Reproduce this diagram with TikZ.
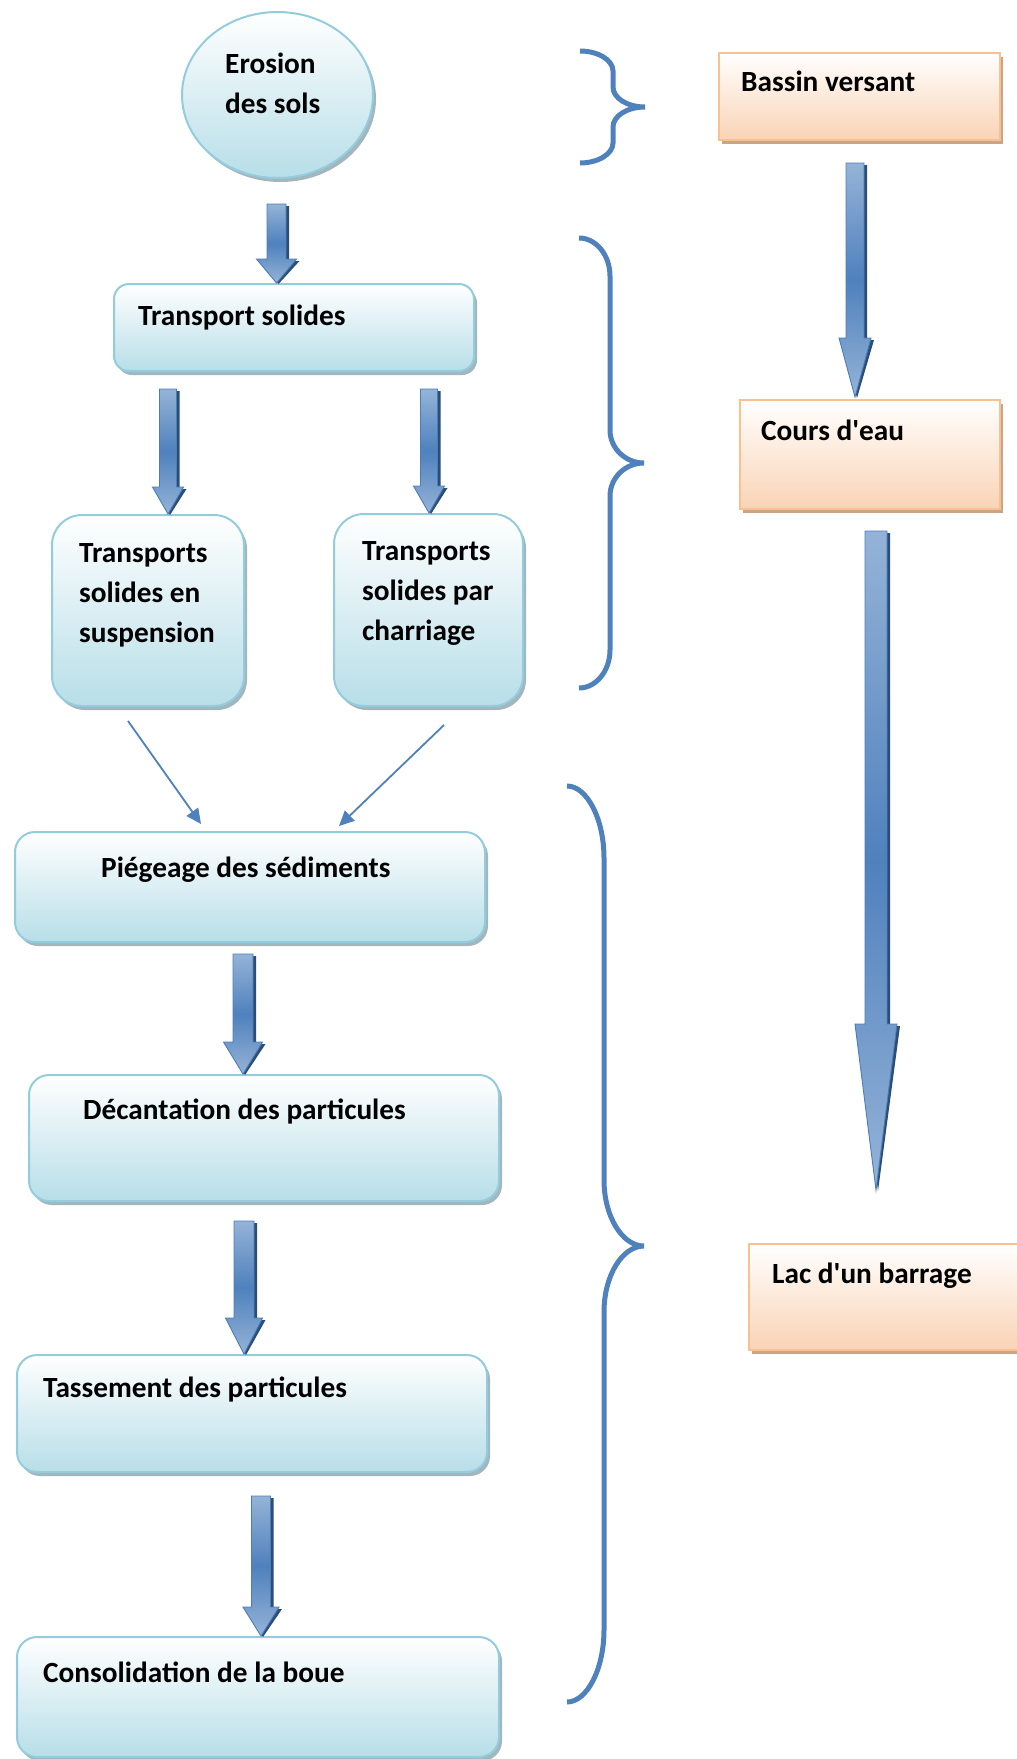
\documentclass[tikz,border=0pt]{standalone}
\usepackage{fontspec}
\setmainfont{Carlito}[Ligatures=TeXOff]
\usetikzlibrary{shapes.geometric,shadows,arrows.meta,calc}

\definecolor{boxline}{HTML}{93CDDD}
\definecolor{boxbot}{HTML}{B7DEE8}
\definecolor{boxshadow}{HTML}{A3B6BD}
\definecolor{orline}{HTML}{FAC090}
\definecolor{orbot}{HTML}{FAD3B5}
\definecolor{orshadow}{HTML}{C9A588}
\definecolor{arrlight}{HTML}{95B3D7}
\definecolor{arrmid}{HTML}{4F81BD}
\definecolor{arrline}{HTML}{4A7EBB}
\definecolor{arrshadow}{HTML}{2C4D75}
\definecolor{bracecol}{HTML}{4F81BD}

\tikzset{
  bluebox/.style={draw=boxline, line width=2pt, top color=white, bottom color=boxbot,
    rounded corners=#1, inner sep=0pt, anchor=north west,
    drop shadow={shadow xshift=3pt, shadow yshift=-4pt, fill=boxshadow, opacity=1}},
  orangebox/.style={draw=orline, line width=2pt, top color=white, bottom color=orbot,
    inner sep=0pt, anchor=north west,
    drop shadow={shadow xshift=3pt, shadow yshift=-4pt, fill=orshadow, opacity=1}},
  lbl/.style={font=\fontsize{29.3}{40}\selectfont\bfseries, inner sep=0pt,
    anchor=base west, align=left, text=black},
  thinarrow/.style={draw=bracecol, line width=1.8pt, -{Triangle[length=15pt,width=14pt]}},
  bracestyle/.style={draw=bracecol, line width=5pt},
  arrowbody/.style={draw=arrline, line width=0.9pt, top color=arrlight,
    bottom color=arrlight, middle color=arrmid, line join=miter},
  arrowshadowstyle/.style={fill=arrshadow}
}

% block arrow: tail point, tip point (only its y is used),
% shaft half width, head half width, head length
\newcommand\blockarr[5]{%
  \fill[arrowshadowstyle] let \p1=#1, \p2=#2 in
    (\x1-#3+3,\y1-2) -- (\x1+#3+3,\y1-2) -- (\x1+#3+3,\y2+#5-2) -- (\x1+#4+3,\y2+#5-2)
    -- (\x1+2,\y2-1) -- (\x1-#4+3,\y2+#5-2) -- (\x1-#3+3,\y2+#5-2) -- cycle;
  \draw[arrowbody] let \p1=#1, \p2=#2 in
    (\x1-#3,\y1) -- (\x1+#3,\y1) -- (\x1+#3,\y2+#5) -- (\x1+#4,\y2+#5)
    -- (\x1,\y2) -- (\x1-#4,\y2+#5) -- (\x1-#3,\y2+#5) -- cycle;
}

\begin{document}
\begin{tikzpicture}[x=1pt, y=-1pt]
\useasboundingbox (0,0) rectangle (1017,1759);
\fill[white] (0,0) rectangle (1017,1759);
\clip (0,0) rectangle (1017,1759);

% left column: process boxes
\node[ellipse, draw=boxline, line width=2pt, top color=white, bottom color=boxbot,
  minimum width=191, minimum height=166, inner sep=0pt,
  drop shadow={shadow xshift=3pt, shadow yshift=-4pt, fill=boxshadow, opacity=1}]
  (ero) at (277.5,95) {};
\node[bluebox=15, minimum width=360, minimum height=87] (trs) at (113,283) {};
\node[bluebox=30, minimum width=192, minimum height=191] (susp) at (51,514) {};
\node[bluebox=30, minimum width=189, minimum height=192] (char) at (333,513) {};
\node[bluebox=20, minimum width=470, minimum height=110] (piege) at (14,831) {};
\node[bluebox=20, minimum width=470, minimum height=126] (decant) at (28,1074) {};
\node[bluebox=20, minimum width=470, minimum height=117] (tass) at (16,1354) {};
\node[bluebox=20, minimum width=482, minimum height=120] (conso) at (16,1636) {};

% right column: places
\node[orangebox, minimum width=281, minimum height=87] (bassin) at (718,52) {};
\node[orangebox, minimum width=260, minimum height=109] (cours) at (739,399) {};
\node[orangebox, minimum width=290, minimum height=106] (lac) at (748,1243) {};

% labels (multi-line labels are placed by their last baseline)
\node[lbl] (t-ero) at (225,113) {Erosion\\des sols};
\node[lbl] (t-trs) at (138,325) {Transport solides};
\node[lbl] (t-susp) at (79,642) {Transports\\solides en\\suspension};
\node[lbl] (t-char) at (362,640) {Transports\\solides par\\charriage};
\node[lbl] (t-piege) at (101,877) {Piégeage des sédiments};
\node[lbl] (t-decant) at (83,1119) {Décantation des particules};
\node[lbl] (t-tass) at (43,1397) {Tassement des particules};
\node[lbl] (t-conso) at (43,1682) {Consolidation de la boue};
\node[lbl] (t-bassin) at (741,91) {Bassin versant};
\node[lbl] (t-cours) at (761,440) {Cours d'eau};
\node[lbl] (t-lac) at (772,1283) {Lac d'un barrage};

% block arrows
\blockarr{($(ero.south)+(-1,25)$)}{(trs.north)}{9.5}{20}{24}
\blockarr{($(trs.south)+(-126,17)$)}{(susp.north)}{8.5}{15.5}{27}
\blockarr{($(trs.south)+(135,17)$)}{(char.north)}{8.5}{15.5}{27}
\blockarr{($(piege.south)+(-7,11)$)}{(decant.north)}{10}{19.5}{32}
\blockarr{($(decant.south)+(-20,19)$)}{(tass.north)}{10}{18.5}{36}
\blockarr{($(tass.south)+(9,23)$)}{(conso.north)}{9.5}{18}{29}
\blockarr{($(bassin.south)+(-4.5,22)$)}{($(cours.north)+(0,-2)$)}{9}{16}{59}
\coordinate (lacin) at ($(lac.north)+(0,-53)$);
\blockarr{($(cours.south)+(6,21)$)}{(lacin)}{11}{21}{166}

% thin arrows into the trapping box
\draw[thinarrow] ($(susp.south)+(-20,14)$) -- ($(piege.north)+(-49,-7)$);
\draw[thinarrow] ($(char.south)+(15.5,18)$) -- ($(piege.north)+(89,-5)$);

% braces
\draw[bracestyle] (580,51) .. controls (598,51) and (613,60) .. (613,71)
  -- (613,87) .. controls (613,98) and (627,107) .. (645,107)
  .. controls (627,107) and (613,116) .. (613,127)
  -- (613,143) .. controls (613,154) and (598,163) .. (580,163);
\draw[bracestyle] (579,238) .. controls (596,238) and (610,255) .. (610,276)
  -- (610,430) .. controls (610,448) and (625,463) .. (644,463)
  .. controls (625,463) and (610,478) .. (610,496)
  -- (610,650) .. controls (610,671) and (596,688) .. (579,688);
\draw[bracestyle] (567,786) .. controls (587,786) and (604,819) .. (604,858)
  -- (604,1180) .. controls (604,1216) and (622,1246) .. (644,1246)
  .. controls (622,1246) and (604,1276) .. (604,1312)
  -- (604,1630) .. controls (604,1669) and (587,1702) .. (567,1702);
\end{tikzpicture}
\end{document}
